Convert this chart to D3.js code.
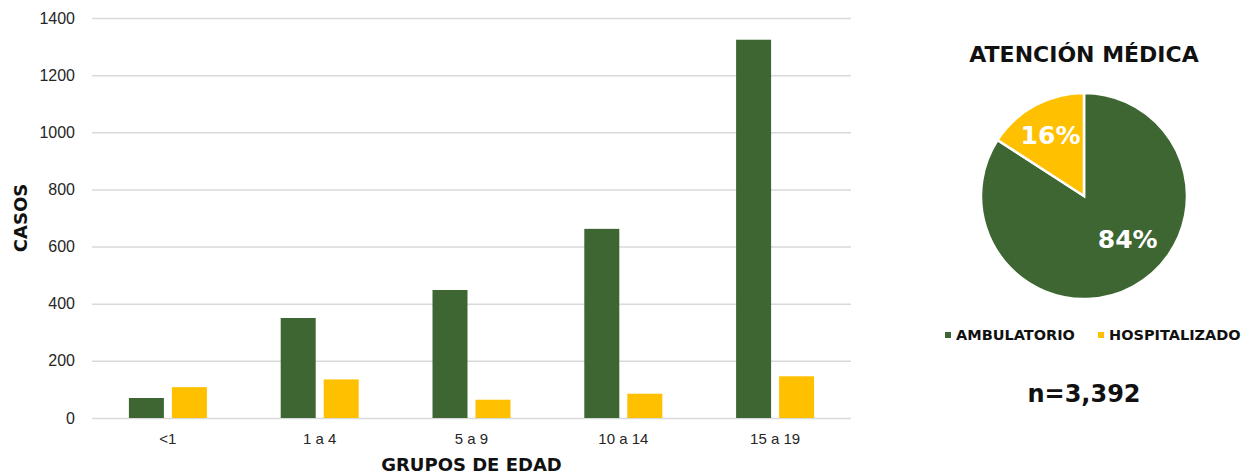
<!DOCTYPE html>
<html>
<head>
<meta charset="utf-8">
<script src="https://cdn.jsdelivr.net/npm/d3@7"></script>
<style>
  body { margin: 0; background: #fff; }
  svg { display: block; font-family: "DejaVu Sans", "Open Sans", sans-serif; }
  .grid line { stroke: #d9d9d9; stroke-width: 1.5; }
  .grid .domain { display: none; }
  .axis text { fill: #262626; }
</style>
</head>
<body>
<svg width="1249" height="476"></svg>
<script>
var grupos = ["<1", "1 a 4", "5 a 9", "10 a 14", "15 a 19"];
var ambulatorio = [70, 350, 448, 662, 1324];
var hospitalizado = [108, 135, 64, 85, 146];
var series = ["AMBULATORIO", "HOSPITALIZADO"];
var colores = ["#3d6632", "#ffc000"];
var yTicks = [0, 200, 400, 600, 800, 1000, 1200, 1400];
var total = 3392;

var svg = d3.select("svg");
var m = {left: 92, right: 851, top: 18, bottom: 418};

var x = d3.scaleBand().domain(grupos).range([m.left, m.right]);
var y = d3.scaleLinear().domain([0, 1400]).range([m.bottom, m.top]);
var bw = 35, gap = 8;

// grid
svg.append("g").attr("class", "grid")
    .attr("transform", "translate(" + m.left + ",0)")
    .call(d3.axisLeft(y).tickValues(yTicks).tickSize(-(m.right - m.left)).tickFormat(""));

// y labels
svg.append("g").attr("class", "axis")
    .attr("transform", "translate(" + (m.left - 17) + ",0)")
    .call(d3.axisLeft(y).tickValues(yTicks).tickSize(0).tickPadding(0).tickFormat(d3.format("d")))
    .call(function(g){ g.select(".domain").remove(); })
    .selectAll("text").attr("font-size", 16).attr("font-family", null);

// x labels
svg.append("g").attr("class", "axis")
    .attr("transform", "translate(0," + (m.bottom + 15) + ")")
    .call(d3.axisBottom(x).tickSize(0).tickPadding(0))
    .call(function(g){ g.select(".domain").remove(); })
    .selectAll("text").attr("dy", "0.71em").attr("font-size", 15).attr("font-family", null);

var rows = grupos.map(function(g, i){ return {g: g, v: [ambulatorio[i], hospitalizado[i]]}; });

var grp = svg.selectAll(".grp").data(rows).enter().append("g")
    .attr("transform", function(d){ return "translate(" + (x(d.g) + x.bandwidth() / 2) + ",0)"; });

grp.selectAll("rect").data(function(d){ return d.v; }).enter().append("rect")
    .attr("x", function(d, i){ return i === 0 ? -(bw + gap / 2) : gap / 2; })
    .attr("width", bw)
    .attr("y", function(d){ return y(d); })
    .attr("height", function(d){ return y(0) - y(d); })
    .attr("fill", function(d, i){ return colores[i]; });

// axis titles
svg.append("text")
    .attr("transform", "translate(27,218) rotate(-90)")
    .attr("text-anchor", "middle")
    .attr("font-size", 18).attr("font-weight", "bold").attr("fill", "#111")
    .text("CASOS");

svg.append("text")
    .attr("x", (m.left + m.right) / 2).attr("y", 471)
    .attr("text-anchor", "middle")
    .attr("font-size", 18).attr("font-weight", "bold").attr("fill", "#111")
    .text("GRUPOS DE EDAD");

// pie
var sums = [d3.sum(ambulatorio), d3.sum(hospitalizado)];
var cx = 1084, cy = 196, r = 103;

svg.append("text")
    .attr("x", cx).attr("y", 62)
    .attr("text-anchor", "middle")
    .attr("font-size", 22).attr("font-weight", "bold").attr("fill", "#111")
    .text("ATENCIÓN MÉDICA");

var pie = d3.pie().sort(null)(sums);
var arc = d3.arc().innerRadius(0).outerRadius(r);
var pg = svg.append("g").attr("transform", "translate(" + cx + "," + cy + ")");

pg.selectAll("path").data(pie).enter().append("path")
    .attr("d", arc)
    .attr("fill", function(d, i){ return colores[i]; })
    .attr("stroke", "#fff").attr("stroke-width", 2.5);

// label placement: radius and angular nudge per slice
var lblR = [61, 70], lblNudge = [-0.3, 0];
pg.selectAll(".lbl").data(pie).enter().append("text")
    .attr("transform", function(d, i){
      var a = (d.startAngle + d.endAngle) / 2 + lblNudge[i];
      return "translate(" + (Math.sin(a) * lblR[i]) + "," + (-Math.cos(a) * lblR[i]) + ")";
    })
    .attr("text-anchor", "middle").attr("dy", "0.36em")
    .attr("font-size", 25).attr("font-weight", "bold").attr("fill", "#fff")
    .text(function(d){ return Math.round(d.value / total * 100) + "%"; });

// legend
var legX = [945, 1098];
var leg = svg.selectAll(".leg").data(series).enter().append("g")
    .attr("transform", function(d, i){ return "translate(" + legX[i] + ",335)"; });
leg.append("rect").attr("x", 0).attr("y", -3).attr("width", 6).attr("height", 6)
    .attr("fill", function(d, i){ return colores[i]; });
leg.append("text").attr("x", 11).attr("dy", "0.35em")
    .attr("font-size", 14.5).attr("font-weight", "bold").attr("fill", "#111")
    .text(function(d){ return d; });

svg.append("text")
    .attr("x", cx).attr("y", 402)
    .attr("text-anchor", "middle")
    .attr("font-size", 24).attr("font-weight", "bold").attr("fill", "#111")
    .text("n=" + d3.format(",")(total));
</script>
</body>
</html>
